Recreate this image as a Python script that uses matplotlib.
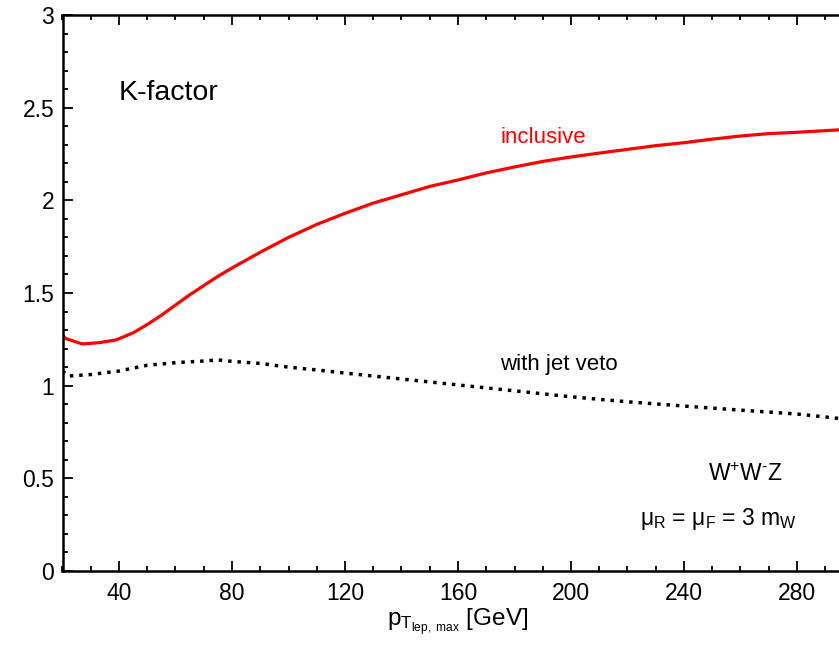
import matplotlib
matplotlib.use("Agg")
import matplotlib.pyplot as plt
from matplotlib.ticker import MultipleLocator

plt.rcParams['font.family'] = ['Liberation Sans', 'DejaVu Sans']
plt.rcParams['mathtext.fontset'] = 'custom'
plt.rcParams['mathtext.rm'] = 'Liberation Sans'
plt.rcParams['mathtext.it'] = 'Liberation Sans'

# K-factor vs pT of leading lepton
pt_incl = [20, 21, 27, 33, 39, 45, 50, 55, 60, 65, 70, 75, 80, 90, 100, 110,
           120, 130, 140, 150, 160, 170, 180, 190, 200, 210, 220, 230, 240,
           250, 260, 270, 280, 290, 300]
k_incl = [1.274, 1.255, 1.225, 1.232, 1.247, 1.285, 1.33, 1.38, 1.435, 1.49,
          1.54, 1.59, 1.635, 1.72, 1.80, 1.87, 1.93, 1.985, 2.03, 2.075,
          2.11, 2.148, 2.18, 2.21, 2.234, 2.255, 2.275, 2.295, 2.311, 2.33,
          2.347, 2.36, 2.367, 2.376, 2.385]

pt_veto = [20, 22, 30, 40, 50, 60, 70, 75, 80, 90, 100, 110, 120, 140, 160,
           180, 200, 220, 240, 260, 280, 300]
k_veto = [1.08, 1.052, 1.06, 1.079, 1.11, 1.124, 1.133, 1.139, 1.131, 1.12,
          1.10, 1.085, 1.068, 1.036, 1.004, 0.972, 0.94, 0.913, 0.89, 0.868,
          0.847, 0.815]

fig = plt.figure(figsize=(8.39, 6.45), dpi=100)
# right edge of the frame lies just outside the picture
ax = fig.add_axes([62.5 / 839, 74 / 645, 791 / 839, 556 / 645])

ax.plot(pt_incl, k_incl, color='#ff0000', lw=2.3)
ax.plot(pt_veto, k_veto, color='black', lw=2.5, linestyle=(0, (1, 1.7)),
        dash_capstyle='butt')

ax.set_xlim(20, 300)
ax.set_ylim(0, 3)
ax.xaxis.set_major_locator(MultipleLocator(40))
ax.xaxis.set_minor_locator(MultipleLocator(10))
ax.yaxis.set_minor_locator(MultipleLocator(0.1))
ax.set_yticks([0, 0.5, 1, 1.5, 2, 2.5, 3])
ax.set_yticklabels(['0', '0.5', '1', '1.5', '2', '2.5', '3'])

ax.tick_params(which='both', direction='in', top=True, right=True,
               width=1.3, labelsize=16.5)
ax.tick_params(axis='x', pad=8)
ax.tick_params(axis='y', pad=6)
ax.tick_params(which='major', length=7)
ax.tick_params(which='minor', length=3.5)
for s in ax.spines.values():
    s.set_linewidth(1.8)

ax.set_xlabel(r'p$_{\mathregular{T_{lep,\ max}}}$ [GeV]', fontsize=17.5,
              labelpad=1)

ax.text(40, 2.58, 'K-factor', fontsize=20.5, va='center')
ax.text(175, 2.34, 'inclusive', fontsize=16, color='#ff0000', va='center')
ax.text(175, 1.115, 'with jet veto', fontsize=16, va='center')
ax.text(248.5, 0.52, r'W$^{\mathregular{+}}$W$^{\text{-}}$Z', fontsize=16.5,
        va='center')
ax.text(224.5, 0.28, r'$\mathregular{\mu_R}$ = $\mathregular{\mu_F}$ = 3 m$_{\mathregular{W}}$',
        fontsize=16.5, va='center')

fig.savefig('out.png', dpi=100)
